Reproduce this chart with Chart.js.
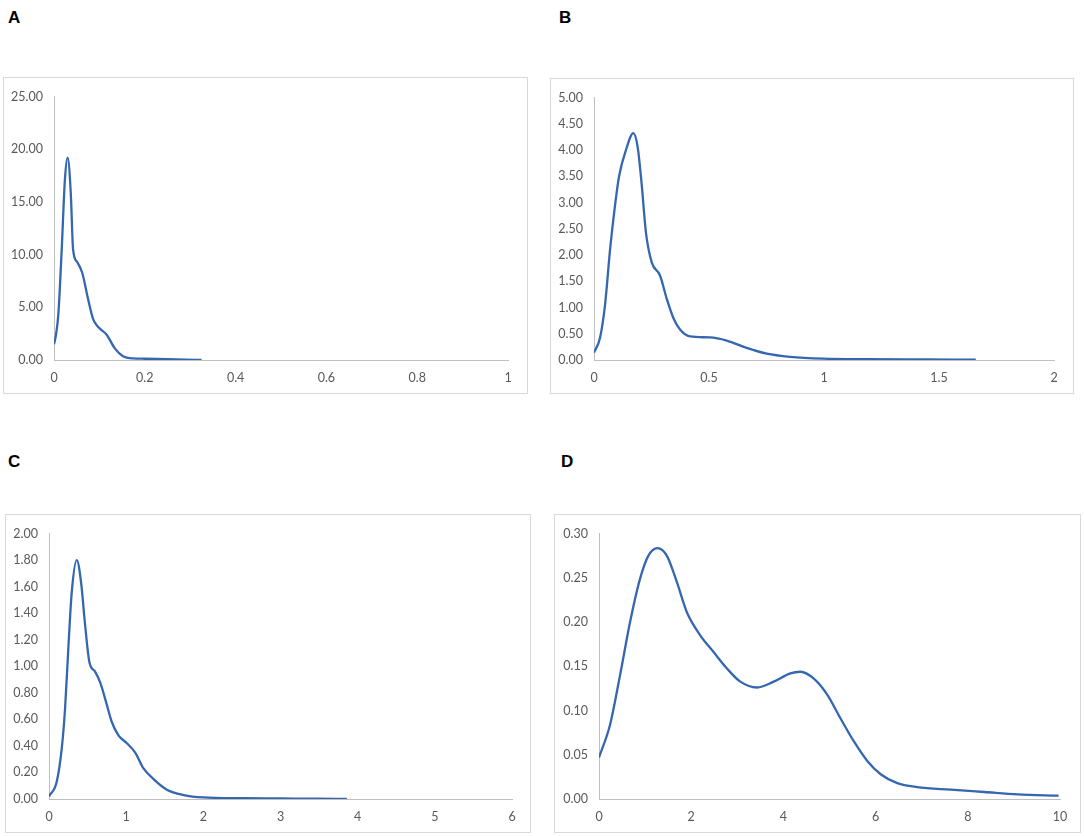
<!DOCTYPE html>
<html>
<head>
<meta charset="utf-8">
<script src="https://cdn.jsdelivr.net/npm/chart.js@4"></script>
<style>
  html,body{margin:0;padding:0;background:#fff;}
  body{width:1084px;height:836px;position:relative;overflow:hidden;}
  .lbl{position:absolute;font-family:"Liberation Sans",Arial,sans-serif;font-weight:bold;font-size:17px;color:#000;}
  .box{position:absolute;border:1px solid #d9d9d9;box-sizing:border-box;background:#fff;}
  .box canvas{position:absolute;left:0;top:0;}
</style>
</head>
<body>
<div class="lbl" style="left:8px;top:8px;">A</div>
<div class="lbl" style="left:559px;top:8px;">B</div>
<div class="lbl" style="left:8px;top:452px;">C</div>
<div class="lbl" style="left:561px;top:452px;">D</div>

<div class="box" id="boxA" style="left:3px;top:77px;width:525px;height:317px;"><canvas id="cA"></canvas></div>
<div class="box" id="boxB" style="left:550px;top:78px;width:524px;height:316px;"><canvas id="cB"></canvas></div>
<div class="box" id="boxC" style="left:5px;top:514px;width:526px;height:319px;"><canvas id="cC"></canvas></div>
<div class="box" id="boxD" style="left:554px;top:514px;width:527px;height:319px;"><canvas id="cD"></canvas></div>

<script>
// ---- Panel A ----
const xA = [0, 0.004, 0.0095, 0.017, 0.024, 0.030, 0.037, 0.042, 0.051, 0.062, 0.075, 0.086, 0.098, 0.116, 0.134, 0.152, 0.174, 0.20, 0.25, 0.29, 0.325];
const yA = [1.5, 2.3, 4.3, 10.5, 17.1, 19.2, 15.8, 10.5, 9.3, 8.3, 5.8, 3.9, 3.1, 2.4, 1.1, 0.35, 0.15, 0.12, 0.08, 0.04, 0.0];
const yTicksA = [0, 5, 10, 15, 20, 25];
const xTicksA = [0, 0.2, 0.4, 0.6, 0.8, 1];

// ---- Panel B ----
const xB = [0, 0.026, 0.048, 0.070, 0.091, 0.109, 0.139, 0.171, 0.19, 0.207, 0.226, 0.251, 0.287, 0.316, 0.345, 0.374, 0.417, 0.504, 0.577, 0.664, 0.751, 0.852, 0.996, 1.2, 1.45, 1.66];
const yB = [0.14, 0.42, 1.05, 2.11, 2.93, 3.5, 4.0, 4.32, 4.05, 3.36, 2.42, 1.86, 1.61, 1.17, 0.80, 0.58, 0.45, 0.43, 0.37, 0.23, 0.12, 0.06, 0.025, 0.015, 0.01, 0.005];
const yTicksB = [0, 0.5, 1, 1.5, 2, 2.5, 3, 3.5, 4, 4.5, 5];
const xTicksB = [0, 0.5, 1, 1.5, 2];

// ---- Panel C ----
const xC = [0, 0.10, 0.165, 0.208, 0.25, 0.295, 0.36, 0.416, 0.468, 0.524, 0.597, 0.662, 0.74, 0.814, 0.90, 1.009, 1.117, 1.225, 1.355, 1.528, 1.745, 2.0, 2.5, 3.0, 3.5, 3.86];
const yC = [0.02, 0.13, 0.38, 0.68, 1.13, 1.56, 1.80, 1.63, 1.31, 1.03, 0.96, 0.88, 0.73, 0.58, 0.48, 0.42, 0.35, 0.23, 0.15, 0.07, 0.03, 0.012, 0.006, 0.004, 0.002, 0.001];
const yTicksC = [0, 0.2, 0.4, 0.6, 0.8, 1, 1.2, 1.4, 1.6, 1.8, 2];
const xTicksC = [0, 1, 2, 3, 4, 5, 6];

// ---- Panel D ----
const xD = [0, 0.24, 0.457, 0.674, 0.891, 1.072, 1.268, 1.47, 1.69, 1.906, 2.196, 2.486, 2.775, 3.065, 3.428, 3.79, 4.15, 4.37, 4.66, 4.95, 5.24, 5.53, 5.82, 6.11, 6.47, 6.9, 7.63, 8.36, 9.08, 9.97];
const yD = [0.047, 0.084, 0.140, 0.200, 0.249, 0.275, 0.2835, 0.275, 0.245, 0.211, 0.185, 0.166, 0.1475, 0.1326, 0.126, 0.1326, 0.142, 0.1438, 0.136, 0.118, 0.091, 0.065, 0.043, 0.028, 0.018, 0.0135, 0.0105, 0.0079, 0.0053, 0.0037];
const yTicksD = [0, 0.05, 0.10, 0.15, 0.20, 0.25, 0.30];
const xTicksD = [0, 2, 4, 6, 8, 10];

const LINE = '#3567B0';
const TICK = '#595959';
const AXIS = '#bfbfbf';
const FONT = {family: 'Lato, "Open Sans", sans-serif', size: 12.5};

function makeChart(id, boxId, xs, ys, xTicks, yTicks, geo) {
  const box = document.getElementById(boxId);
  const w = box.clientWidth, h = box.clientHeight;
  const cv = document.getElementById(id);
  cv.style.width = w + 'px'; cv.style.height = h + 'px';
  const pts = xs.map((x, i) => ({x: x, y: ys[i]}));
  new Chart(cv, {
    type: 'scatter',
    data: {datasets: [{
      data: pts, showLine: true, borderColor: LINE, borderWidth: 2.3,
      pointRadius: 0, fill: false, cubicInterpolationMode: 'monotone'
    }]},
    options: {
      responsive: false, maintainAspectRatio: false, animation: false,
      devicePixelRatio: 1,
      layout: {padding: {top: geo.top, right: geo.right, left: 0, bottom: 0}},
      plugins: {legend: {display: false}, tooltip: {enabled: false}},
      scales: {
        x: {
          type: 'linear', min: xTicks[0], max: xTicks[xTicks.length - 1],
          grid: {display: false, drawTicks: false},
          border: {display: true, color: AXIS, width: 1},
          afterBuildTicks: s => { s.ticks = xTicks.map(v => ({value: v})); },
          afterFit: s => { s.height = geo.bottom; },
          ticks: {color: TICK, font: FONT, padding: 10, maxRotation: 0,
                  callback: v => String(Number(v.toFixed(4)))}
        },
        y: {
          type: 'linear', min: yTicks[0], max: yTicks[yTicks.length - 1],
          grid: {display: false, drawTicks: false},
          border: {display: true, color: AXIS, width: 1},
          afterBuildTicks: s => { s.ticks = yTicks.map(v => ({value: v})); },
          afterFit: s => { s.width = geo.left; },
          ticks: {color: TICK, font: FONT, padding: 11,
                  callback: v => Number(v).toFixed(2)}
        }
      }
    }
  });
}

// geo: distances (px) from box inner edges to plot area
makeChart('cA', 'boxA', xA, yA, xTicksA, yTicksA, {left: 50, right: 19, top: 16, bottom: 33});
makeChart('cB', 'boxB', xB, yB, xTicksB, yTicksB, {left: 43, right: 19, top: 14, bottom: 33});
makeChart('cC', 'boxC', xC, yC, xTicksC, yTicksC, {left: 43, right: 18, top: 16, bottom: 33});
makeChart('cD', 'boxD', xD, yD, xTicksD, yTicksD, {left: 44, right: 20, top: 16, bottom: 33});
</script>
</body>
</html>
